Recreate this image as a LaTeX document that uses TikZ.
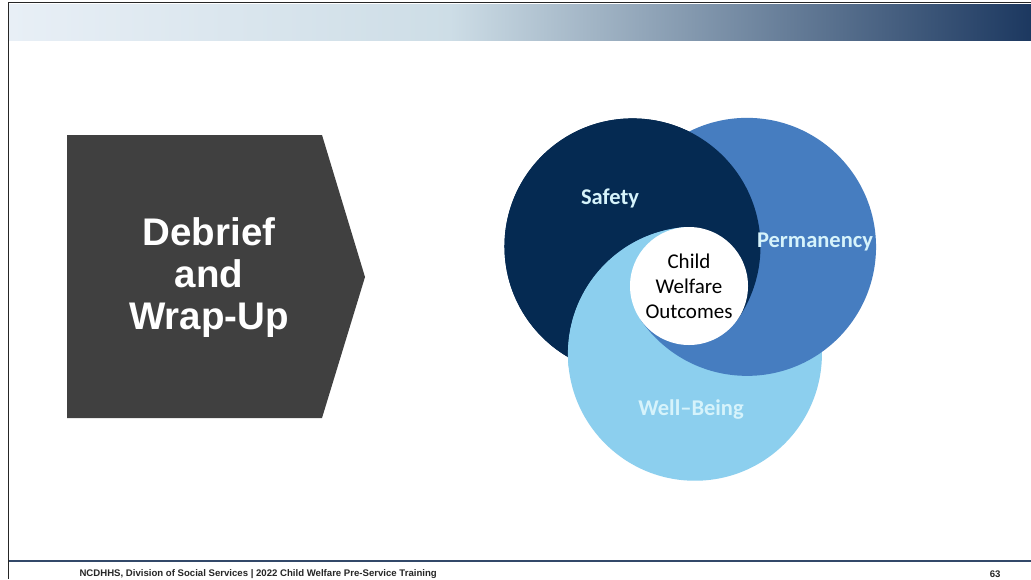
\documentclass[tikz,border=0pt]{standalone}
\usepackage{fontspec}
\setmainfont{Liberation Sans}
\newfontfamily\calib{Carlito}

\definecolor{safeblue}{RGB}{5,42,82}
\definecolor{permblue}{RGB}{70,125,192}
\definecolor{wellblue}{RGB}{140,207,238}
\definecolor{labelcyan}{RGB}{214,243,251}
\definecolor{arrowgrey}{RGB}{64,64,64}
\definecolor{bandlight}{RGB}{232,239,246}
\definecolor{bandmid}{RGB}{205,221,230}
\definecolor{banddark}{RGB}{28,56,96}
\definecolor{footline}{RGB}{50,72,105}

\begin{document}
\begin{tikzpicture}[x=1pt,y=-1pt,
		lbl/.style={font=\calib\bfseries\fontsize{22.5}{26}\selectfont, text=labelcyan},
		foot/.style={font=\bfseries\fontsize{9.6}{11}\selectfont, text=black!85}]
		\useasboundingbox (0,0) rectangle (1031,579);
		\fill[white] (0,0) rectangle (1031,579);
		% bandeau
		\shade[left color=bandlight, right color=bandmid] (9,4) rectangle (451,40);
		\shade[left color=bandmid, right color=banddark] (450,4) rectangle (1031,40);
		\draw[black!85, line width=1.5] (8,2.5) -- (1031,2.5);
		\draw[black!85, line width=1.2] (8.5,2) -- (8.5,579);
		\draw[footline, line width=2] (9,561) -- (1031,561);
		
		\fill[arrowgrey] (67,135) -- (322,135) -- (365,277) -- (322,418) -- (67,418) -- cycle;
		\node[white, font=\bfseries\fontsize{38.5}{42}\selectfont, align=center] (titre) at (209,278) {Debrief\\and\\Wrap-Up};
		
		\coordinate (cw) at (689,286);
		\coordinate (cs) at ([shift={(215:69)}]cw);
		\coordinate (cp) at ([shift={(326:70)}]cw);
		\coordinate (cb) at ([shift={(85:68)}]cw);
		\fill[safeblue] (cs) circle (128);
		\fill[wellblue] (cb) circle (127);
		\fill[permblue] (cp) circle (129);
		\begin{scope}
			\clip (0,0) -- (1031,0) -- (1031,579) -- (0,579) -- cycle
				([shift={(127,0)}]cb) arc[start angle=0, end angle=-360, radius=127] -- cycle
				(cw) -- ([shift={(265:400)}]cw) -- ([shift={(330:400)}]cw) -- ([shift={(395:400)}]cw) -- cycle;
			\fill[safeblue] (cs) circle (128);
		\end{scope}
		\begin{scope}
			\clip (cw) -- ([shift={(146:400)}]cw) -- ([shift={(205:400)}]cw) -- ([shift={(265:400)}]cw) -- cycle;
			\fill[wellblue] (cb) circle (127);
		\end{scope}
		
		\node[circle, fill=white, minimum size=118pt, inner sep=0pt, align=center,
			font=\calib\fontsize{21}{25}\selectfont] (centre) at (cw) {Child\\Welfare\\Outcomes};
		\node[lbl] (safety) at (610,198) {Safety};
		\node[lbl] (permanency) at (815,242) {Permanency};
		\node[lbl] (wellbeing) at (691,410) {Well–Being};
		
		\node[foot, anchor=west] (pied) at (76,574) {NCDHHS, Division of Social Services | 2022 Child Welfare Pre-Service Training};
		\node[foot, anchor=east] (page) at (1004,574) {63};
	\end{tikzpicture}
\end{document}
